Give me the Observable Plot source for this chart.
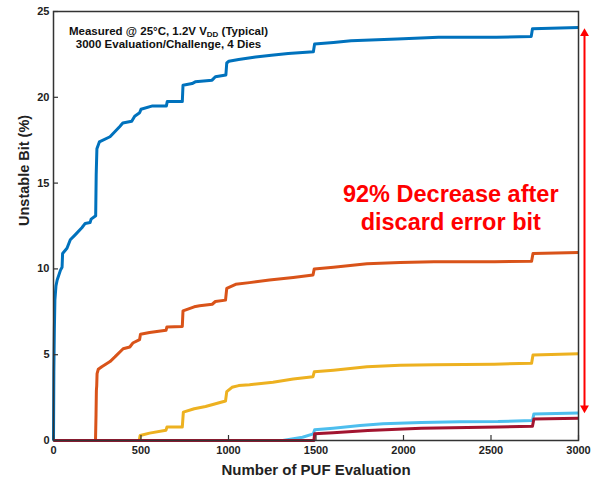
<!DOCTYPE html>
<html>
<head>
<meta charset="utf-8">
<script src="https://cdn.jsdelivr.net/npm/d3@7"></script>
<script src="https://cdn.jsdelivr.net/npm/@observablehq/plot@0.6"></script>
<style>
  html, body { margin: 0; padding: 0; background: #fff; }
</style>
</head>
<body>
<div id="chart"></div>
<script>
// ---- data (x = number of PUF evaluations, y = unstable bit %) ----
const xTicks = [0, 500, 1000, 1500, 2000, 2500, 3000];
const yTicks = [0, 5, 10, 15, 20, 25];

const dieBlue = [[0,0],[2,4],[5,6.5],[8,8.2],[14,9],[21,9.35],[40,9.93],[49,10.1],[52,10.9],[77,11.2],[96,11.7],[125,12.0],[162,12.4],[181,12.65],[209,12.7],[215,12.9],[241,13.1],[244,15.5],[248,17.0],[262,17.4],[323,17.7],[379,18.3],[396,18.5],[447,18.6],[464,18.9],[492,19.1],[500,19.3],[566,19.5],[645,19.5],[650,19.75],[736,19.75],[740,20.7],[792,20.8],[810,20.9],[906,21.0],[925,21.2],[985,21.3],[990,22.0],[1002,22.1],[1058,22.2],[1155,22.35],[1245,22.45],[1341,22.55],[1485,22.65],[1492,23.1],[1600,23.2],[1700,23.3],[1964,23.4],[2200,23.5],[2530,23.5],[2730,23.55],[2737,24.0],[3000,24.07]];

const dieOrange = [[0,0],[240,0],[243,1.5],[245,2.9],[247,3.2],[249,3.9],[256,4.15],[276,4.3],[323,4.6],[351,4.87],[398,5.35],[436,5.45],[453,5.68],[492,5.88],[497,6.19],[549,6.29],[643,6.42],[648,6.62],[736,6.65],[740,7.55],[804,7.79],[835,7.85],[907,7.94],[925,8.1],[983,8.18],[990,8.86],[1041,9.1],[1120,9.2],[1234,9.35],[1370,9.5],[1483,9.65],[1490,10.0],[1600,10.1],[1791,10.3],[1981,10.38],[2174,10.42],[2519,10.42],[2732,10.45],[2740,10.9],[3000,10.95]];

const dieYellow = [[0,0],[490,0],[495,0.29],[549,0.43],[643,0.6],[648,0.78],[736,0.78],[742,1.65],[804,1.85],[869,1.98],[926,2.14],[983,2.3],[990,2.85],[1020,3.1],[1058,3.2],[1120,3.25],[1254,3.4],[1370,3.58],[1483,3.72],[1490,4.0],[1600,4.1],[1791,4.3],[1981,4.38],[2174,4.42],[2519,4.45],[2732,4.5],[2740,4.98],[3000,5.05]];

const dieCyan = [[0,0],[1310,0],[1423,0.19],[1485,0.39],[1492,0.62],[1598,0.72],[1752,0.87],[1883,0.97],[2102,1.05],[2321,1.09],[2540,1.1],[2737,1.16],[2745,1.55],[3000,1.6]];

const dieRed = [[0,0],[1488,0],[1492,0.39],[1598,0.45],[1796,0.58],[2102,0.72],[2540,0.78],[2737,0.83],[2745,1.25],[3000,1.3]];

const seriesColors = ["#0072BD", "#D95319", "#EDB120", "#4DBEEE", "#A2142F"];
const seriesData = [dieBlue, dieOrange, dieYellow, dieCyan, dieRed];

const xLabel = "Number of PUF Evaluation";
const yLabel = "Unstable Bit (%)";
const noteText = "Measured @ 25°C, 1.2V VDD (Typical)\n3000 Evaluation/Challenge, 4 Dies";
const annotText = "92% Decrease after\ndiscard error bit";
const annotPos = {x: 2270, y: 13.6};

// arrow from top curve end to lowest-reduced curve end
const arrowTop = dieBlue[dieBlue.length - 1][1];
const arrowBottom = dieCyan[dieCyan.length - 1][1];

// ---- chart ----
const W = 599, H = 479;
const mL = 53, mR = 21, mT = 11, mB = 39;
const plotH = H - mT - mB, plotW = W - mL - mR;
const FONT = "'Liberation Sans', Arial, Helvetica, sans-serif";
const RED = "#ff0000";

const marks = [];
seriesData.forEach((d, i) => {
  marks.push(Plot.line(d, {x: p => p[0], y: p => p[1], stroke: seriesColors[i], strokeWidth: 3, strokeLinejoin: "round", strokeLinecap: "butt"}));
});

marks.push(
  Plot.frame({stroke: "#333", strokeWidth: 1.5}),
  Plot.tickX(xTicks, {x: d => d, insetTop: plotH - 5, stroke: "#333", strokeWidth: 1.2}),
  Plot.tickY(yTicks, {y: d => d, insetRight: plotW - 5, stroke: "#333", strokeWidth: 1.2}),
  Plot.axisX({ticks: xTicks, tickSize: 0, tickPadding: 6, tickFormat: d => String(d), label: null, fontSize: 11, fontWeight: "bold", fill: "#222"}),
  Plot.axisY({ticks: yTicks, tickSize: 0, tickPadding: 4, tickFormat: d => String(d), label: null, fontSize: 11, fontWeight: "bold", fill: "#222"}),
  Plot.text([xLabel], {frameAnchor: "bottom", text: d => d, dy: 34, lineAnchor: "bottom", fontSize: 15, fontWeight: "bold", fill: "#222"}),
  Plot.text([yLabel], {frameAnchor: "left", text: d => d, dx: -29, rotate: -90, fontSize: 14.5, fontWeight: "bold", fill: "#222"}),
  Plot.text([noteText], {frameAnchor: "top-left", text: d => d, dx: 115, dy: 14, lineAnchor: "top", textAnchor: "middle", fontSize: 11.5, fontWeight: "bold", lineHeight: 1.15, fill: "#111"}),
  Plot.text([annotText], {x: annotPos.x, y: annotPos.y, text: d => d, fontSize: 23.5, fontWeight: "bold", lineHeight: 1.17, fill: RED}),
  Plot.ruleX([3000], {x: d => d, y1: arrowTop, y2: arrowBottom, dx: 6, stroke: RED, strokeWidth: 2, insetTop: 6, insetBottom: 6}),
  Plot.dot([arrowTop], {x: () => 3000, y: d => d, dx: 6, dy: 6, symbol: "triangle", r: 3.3, fill: RED, stroke: "none"}),
  Plot.dot([arrowBottom], {x: () => 3000, y: d => d, dx: 6, dy: -5, symbol: "triangle", rotate: 180, r: 3.3, fill: RED, stroke: "none"})
);

const chart = Plot.plot({
  width: W,
  height: H,
  marginLeft: mL,
  marginRight: mR,
  marginTop: mT,
  marginBottom: mB,
  style: {fontFamily: FONT, background: "#fff", overflow: "visible"},
  x: {domain: [0, 3000], axis: null},
  y: {domain: [0, 25], axis: null},
  marks
});

// subscript "DD" in V_DD
d3.select(chart).selectAll("tspan").each(function() {
  const t = this.textContent;
  const i = t.indexOf("VDD");
  if (i >= 0) {
    const sel = d3.select(this);
    sel.text(null);
    sel.append("tspan").text(t.slice(0, i + 1));
    sel.append("tspan").attr("font-size", "8px").attr("dy", "2").text("DD");
    sel.append("tspan").attr("dy", "-2").text(t.slice(i + 3));
  }
});

document.getElementById("chart").appendChild(chart);
</script>
</body>
</html>
